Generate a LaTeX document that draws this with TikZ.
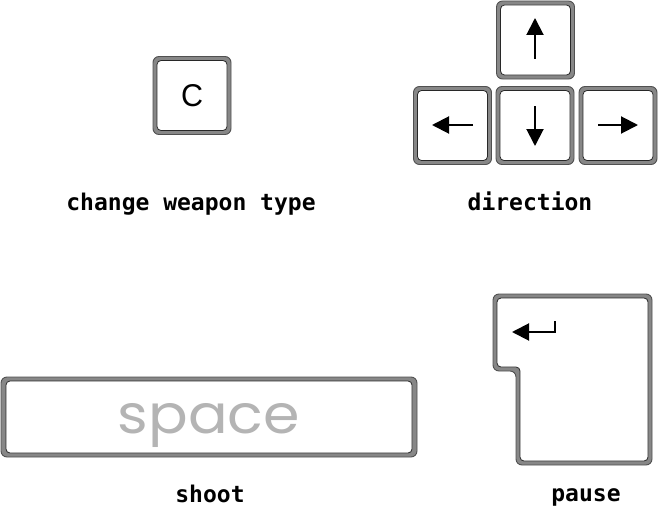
\documentclass[tikz,border=0pt]{standalone}
\usepackage{fontspec}
\usetikzlibrary{arrows.meta}
\newfontfamily\labelfont{DejaVu Sans Mono}
\newfontfamily\keyfont{Liberation Sans}
\newfontfamily\spacefont{Poppins}
\definecolor{capgray}{RGB}{135,135,135}
\definecolor{capedge}{RGB}{80,80,80}
\definecolor{inedge}{RGB}{40,40,40}
\definecolor{spacegray}{RGB}{180,180,180}
\tikzset{
  capouter/.style={draw=capedge, line width=0.9pt, fill=capgray, rounded corners=6pt},
  capinner/.style={draw=inedge, line width=0.8pt, fill=white, rounded corners=4pt},
  keyout/.style={capouter, minimum width=78pt, minimum height=78pt, inner sep=0pt},
  keyin/.style={capinner, minimum width=70pt, minimum height=70pt, inner sep=0pt},
  lbl/.style={font=\labelfont\bfseries\fontsize{23}{27}\selectfont, anchor=base, inner sep=0pt},
  keyarrow/.style={line width=2pt, -{Triangle[length=17pt,width=17pt]}},
}
\begin{document}
\begin{tikzpicture}[x=1pt,y=-1pt]
\useasboundingbox (0,0) rectangle (658,511);
% C key
\node[keyout] (co) at (192,95.5) {};
\node[keyin, font=\keyfont] (ck) at (192,95.5) {\resizebox{22pt}{22pt}{C}};
% direction keys
\node[keyout] (upo) at (535.5,40) {};
\node[keyin] (up) at (535.5,40) {};
\node[keyout] (lefto) at (452.5,125.5) {};
\node[keyin] (left) at (452.5,125.5) {};
\node[keyout] (downo) at (535,125.5) {};
\node[keyin] (down) at (535,125.5) {};
\node[keyout] (righto) at (618,125.5) {};
\node[keyin] (right) at (618,125.5) {};
\coordinate (upA) at (535,59); \coordinate (upB) at (535,18);
\coordinate (leA) at (473,125); \coordinate (leB) at (432,125);
\coordinate (doA) at (535,106); \coordinate (doB) at (535,146);
\coordinate (riA) at (598,125); \coordinate (riB) at (638,125);
\draw[keyarrow] (upA) -- (upB);
\draw[keyarrow] (leA) -- (leB);
\draw[keyarrow] (doA) -- (doB);
\draw[keyarrow] (riA) -- (riB);
% space key
\node[capouter, minimum width=416pt, minimum height=80pt, inner sep=0pt] (spo) at (209,417) {};
\node[capinner, minimum width=406pt, minimum height=72pt, inner sep=0pt] (sp) at (209,417) {};
\node[anchor=base, inner sep=0pt, text=spacegray] (spt) at (209,433) {\resizebox{182pt}{30pt}{\spacefont space}};
% enter key
\draw[capouter] (493,294) -- (652,294) -- (652,465) -- (516,465) -- (516,371) -- (493,371) -- cycle;
\draw[capinner] (497,298) -- (648,298) -- (648,461) -- (520,461) -- (520,367) -- (497,367) -- cycle;
\coordinate (enA) at (555,321);
\coordinate (enB) at (555,332);
\coordinate (enC) at (512,332);
\draw[keyarrow] (enA) -- (enB) -- (enC);
% labels
\node[lbl] (l1) at (191,210) {change weapon type};
\node[lbl] (l2) at (530,210) {direction};
\node[lbl] (l3) at (210,502) {shoot};
\node[lbl] (l4) at (586,501) {pause};
\end{tikzpicture}
\end{document}
